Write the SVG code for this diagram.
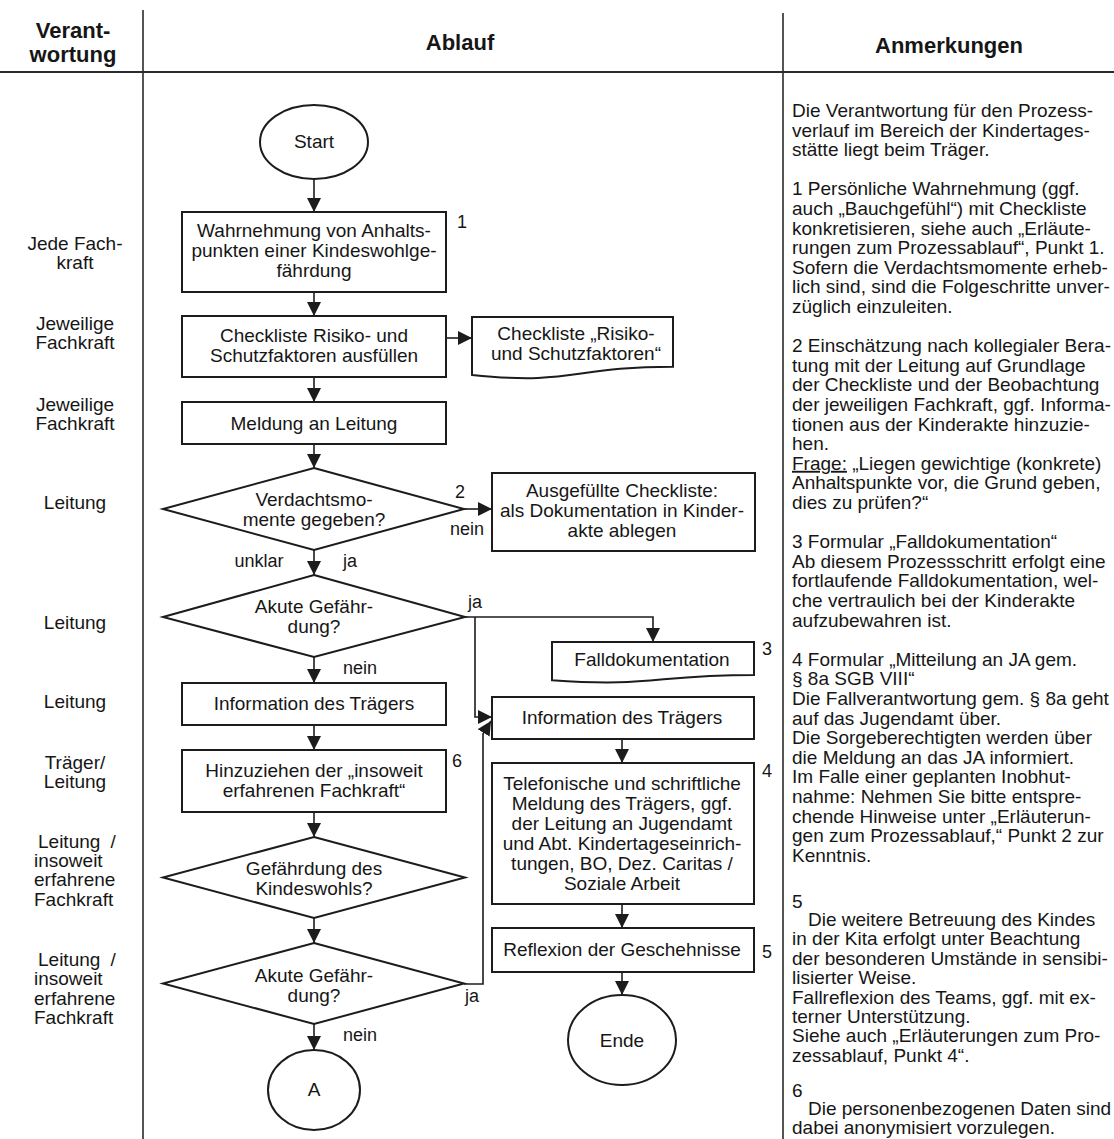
<svg xmlns="http://www.w3.org/2000/svg" width="1114" height="1139" viewBox="0 0 1114 1139">
  <style>
    .t { font-family: "Liberation Sans", Arial, sans-serif; font-size: 19px; fill: #161616; }
    .c { text-anchor: middle; }
    .h { font-weight: bold; font-size: 22px; }
    .lbl { font-size: 18px; }
    .shape { fill: #ffffff; stroke: #1c1c1c; stroke-width: 2; }
    .con { fill: none; stroke: #1c1c1c; stroke-width: 1.6; marker-end: url(#ah); }
    .rule { stroke: #2a2a2a; stroke-width: 1.6; fill: none; }
    .u { text-decoration: underline; }
  </style>
  <defs>
    <marker id="ah" markerUnits="userSpaceOnUse" markerWidth="14" markerHeight="14" viewBox="0 0 13 13" refX="13" refY="6.5" orient="auto">
      <path d="M0,0 L13,6.5 L0,13 Z" fill="#1c1c1c"/>
    </marker>
  </defs>

  <rect width="1114" height="1139" fill="#ffffff"/>

  <!-- table grid -->
  <g id="grid">
    <line class="rule" x1="143" y1="10" x2="143" y2="1139"/>
    <line class="rule" x1="783" y1="13" x2="783" y2="1139"/>
    <line class="rule" x1="0" y1="72" x2="1114" y2="72" style="stroke-width:2.2"/>
  </g>

  <!-- column headings -->
  <g id="headings">
    <text class="t h c" x="73" y="38">Verant-</text>
    <text class="t h c" x="73" y="62">wortung</text>
    <text class="t h c" x="460" y="50">Ablauf</text>
    <text class="t h c" x="949" y="53">Anmerkungen</text>
  </g>

  <!-- responsibility column -->
  <g id="responsibility">
    <text class="t c" x="75" y="250">Jede Fach-</text>
    <text class="t c" x="75" y="269">kraft</text>
    <text class="t c" x="75" y="330">Jeweilige</text>
    <text class="t c" x="75" y="349">Fachkraft</text>
    <text class="t c" x="75" y="411">Jeweilige</text>
    <text class="t c" x="75" y="430">Fachkraft</text>
    <text class="t c" x="75" y="509">Leitung</text>
    <text class="t c" x="75" y="629">Leitung</text>
    <text class="t c" x="75" y="708">Leitung</text>
    <text class="t c" x="75" y="769">Träger/</text>
    <text class="t c" x="75" y="788">Leitung</text>
    <text class="t" x="38" y="848" style="word-spacing:5px">Leitung /</text>
    <text class="t" x="34" y="867">insoweit</text>
    <text class="t" x="34" y="886">erfahrene</text>
    <text class="t" x="34" y="906">Fachkraft</text>
    <text class="t" x="38" y="966" style="word-spacing:5px">Leitung /</text>
    <text class="t" x="34" y="985">insoweit</text>
    <text class="t" x="34" y="1005">erfahrene</text>
    <text class="t" x="34" y="1024">Fachkraft</text>
  </g>

  <!-- connectors -->
  <g id="connectors">
    <path class="con" d="M314,179 V212"/>
    <path class="con" d="M314,292 V316"/>
    <path class="con" d="M446,338 H472"/>
    <path class="con" d="M314,377 V402"/>
    <path class="con" d="M314,444 V468"/>
    <path class="con" d="M464,509 H492"/>
    <path class="con" d="M314,550 V575"/>
    <path class="con" d="M465,617 H653 V642"/>
    <path class="con" d="M475,617 V717 H492"/>
    <path class="con" d="M314,657 V683"/>
    <path class="con" d="M314,725 V750"/>
    <path class="con" d="M314,812 V837"/>
    <path class="con" d="M314,918 V943"/>
    <path class="con" d="M314,1024 V1050"/>
    <path class="con" d="M464,984 H483 V734 L491,721"/>
    <path class="con" d="M622,739 V763"/>
    <path class="con" d="M622,904 V928"/>
    <path class="con" d="M622,972 V995"/>
    <!-- branch labels -->
    <text class="t lbl" x="455" y="498">2</text>
    <text class="t lbl c" x="467" y="535">nein</text>
    <text class="t lbl c" x="259" y="567">unklar</text>
    <text class="t lbl" x="343" y="567">ja</text>
    <text class="t lbl" x="468" y="608">ja</text>
    <text class="t lbl" x="343" y="674">nein</text>
    <text class="t lbl" x="465" y="1002">ja</text>
    <text class="t lbl" x="343" y="1041">nein</text>
  </g>

  <!-- main sequence -->
  <g id="start">
    <ellipse class="shape" cx="314" cy="142" rx="54" ry="37"/>
    <text class="t c" x="314" y="148">Start</text>
  </g>

  <g id="wahrnehmung">
    <rect class="shape" x="182" y="212" width="264" height="80"/>
    <text class="t c" x="314" y="237">Wahrnehmung von Anhalts-</text>
    <text class="t c" x="314" y="257">punkten einer Kindeswohlge-</text>
    <text class="t c" x="314" y="277">fährdung</text>
    <text class="t lbl" x="457" y="228">1</text>
  </g>

  <g id="checkliste">
    <rect class="shape" x="182" y="316" width="264" height="61"/>
    <text class="t c" x="314" y="342">Checkliste Risiko- und</text>
    <text class="t c" x="314" y="362">Schutzfaktoren ausfüllen</text>
  </g>

  <g id="checkliste-dok">
    <path class="shape" d="M472,317 H673 V366.7 C572.5,366.7 572.5,385.6 472,374.9 Z"/>
    <text class="t c" x="576" y="340">Checkliste „Risiko-</text>
    <text class="t c" x="576" y="360">und Schutzfaktoren“</text>
  </g>

  <g id="meldung">
    <rect class="shape" x="182" y="402" width="264" height="42"/>
    <text class="t c" x="314" y="430">Meldung an Leitung</text>
  </g>

  <g id="verdacht">
    <path class="shape" d="M314,468 L464,509 L314,550 L163,509 Z"/>
    <text class="t c" x="314" y="506">Verdachtsmo-</text>
    <text class="t c" x="314" y="526">mente gegeben?</text>
  </g>

  <g id="ablage">
    <rect class="shape" x="492" y="473" width="263" height="78"/>
    <text class="t c" x="622" y="497">Ausgefüllte Checkliste:</text>
    <text class="t c" x="622" y="517">als Dokumentation in Kinder-</text>
    <text class="t c" x="622" y="537">akte ablegen</text>
  </g>

  <g id="akut-1">
    <path class="shape" d="M314,575 L465,617 L314,657 L163,617 Z"/>
    <text class="t c" x="314" y="613">Akute Gefähr-</text>
    <text class="t c" x="314" y="633">dung?</text>
  </g>

  <g id="falldokumentation">
    <path class="shape" d="M552,642 H754 V675 C653,675 653,687.4 552,680.3 Z"/>
    <text class="t c" x="652" y="666">Falldokumentation</text>
    <text class="t lbl" x="762" y="655">3</text>
  </g>

  <g id="info-traeger-1">
    <rect class="shape" x="182" y="683" width="264" height="42"/>
    <text class="t c" x="314" y="710">Information des Trägers</text>
  </g>

  <g id="info-traeger-2">
    <rect class="shape" x="492" y="697" width="262" height="42"/>
    <text class="t c" x="622" y="724">Information des Trägers</text>
  </g>

  <g id="fachkraft">
    <rect class="shape" x="182" y="750" width="264" height="62"/>
    <text class="t c" x="314" y="777">Hinzuziehen der „insoweit</text>
    <text class="t c" x="314" y="797">erfahrenen Fachkraft“</text>
    <text class="t lbl" x="452" y="767">6</text>
  </g>

  <g id="meldung-ja">
    <rect class="shape" x="492" y="763" width="262" height="141"/>
    <text class="t c" x="622" y="790">Telefonische und schriftliche</text>
    <text class="t c" x="622" y="810">Meldung des Trägers, ggf.</text>
    <text class="t c" x="622" y="830">der Leitung an Jugendamt</text>
    <text class="t c" x="622" y="850">und Abt. Kindertageseinrich-</text>
    <text class="t c" x="622" y="870">tungen, BO, Dez. Caritas /</text>
    <text class="t c" x="622" y="890">Soziale Arbeit</text>
    <text class="t lbl" x="762" y="777">4</text>
  </g>

  <g id="kindeswohl">
    <path class="shape" d="M314,837 L465,877.5 L314,918 L163,877.5 Z"/>
    <text class="t c" x="314" y="875">Gefährdung des</text>
    <text class="t c" x="314" y="895">Kindeswohls?</text>
  </g>

  <g id="reflexion">
    <rect class="shape" x="492" y="928" width="262" height="44"/>
    <text class="t c" x="622" y="956">Reflexion der Geschehnisse</text>
    <text class="t lbl" x="762" y="958">5</text>
  </g>

  <g id="akut-2">
    <path class="shape" d="M314,943 L464,983.5 L314,1024 L163,983.5 Z"/>
    <text class="t c" x="314" y="982">Akute Gefähr-</text>
    <text class="t c" x="314" y="1002">dung?</text>
  </g>

  <g id="ende">
    <ellipse class="shape" cx="622" cy="1040" rx="54" ry="45"/>
    <text class="t c" x="622" y="1047">Ende</text>
  </g>

  <g id="connector-a">
    <ellipse class="shape" cx="314" cy="1090" rx="46" ry="40"/>
    <text class="t c" x="314" y="1096">A</text>
  </g>

  <!-- remarks column -->
  <g id="remarks">
    <text class="t">
      <tspan x="792" y="117">Die Verantwortung für den Prozess-</tspan>
      <tspan x="792" y="136.6">verlauf im Bereich der Kindertages-</tspan>
      <tspan x="792" y="156.2">stätte liegt beim Träger.</tspan>
      <tspan x="792" y="195.4">1 Persönliche Wahrnehmung (ggf.</tspan>
      <tspan x="792" y="215">auch „Bauchgefühl“) mit Checkliste</tspan>
      <tspan x="792" y="234.6">konkretisieren, siehe auch „Erläute-</tspan>
      <tspan x="792" y="254.2">rungen zum Prozessablauf“, Punkt 1.</tspan>
      <tspan x="792" y="273.8">Sofern die Verdachtsmomente erheb-</tspan>
      <tspan x="792" y="293.4">lich sind, sind die Folgeschritte unver-</tspan>
      <tspan x="792" y="313">züglich einzuleiten.</tspan>
      <tspan x="792" y="352.2">2 Einschätzung nach kollegialer Bera-</tspan>
      <tspan x="792" y="371.8">tung mit der Leitung auf Grundlage</tspan>
      <tspan x="792" y="391.4">der Checkliste und der Beobachtung</tspan>
      <tspan x="792" y="411">der jeweiligen Fachkraft, ggf. Informa-</tspan>
      <tspan x="792" y="430.6">tionen aus der Kinderakte hinzuzie-</tspan>
      <tspan x="792" y="450.2">hen.</tspan>
      <tspan x="792" y="469.8" class="u">Frage:</tspan><tspan> „Liegen gewichtige (konkrete)</tspan>
      <tspan x="792" y="489.4">Anhaltspunkte vor, die Grund geben,</tspan>
      <tspan x="792" y="509">dies zu prüfen?“</tspan>
      <tspan x="792" y="548.2">3 Formular „Falldokumentation“</tspan>
      <tspan x="792" y="567.8">Ab diesem Prozessschritt erfolgt eine</tspan>
      <tspan x="792" y="587.4">fortlaufende Falldokumentation, wel-</tspan>
      <tspan x="792" y="607">che vertraulich bei der Kinderakte</tspan>
      <tspan x="792" y="626.6">aufzubewahren ist.</tspan>
      <tspan x="792" y="665.8">4 Formular „Mitteilung an JA gem.</tspan>
      <tspan x="792" y="685.4">§ 8a SGB VIII“</tspan>
      <tspan x="792" y="705">Die Fallverantwortung gem. § 8a geht</tspan>
      <tspan x="792" y="724.6">auf das Jugendamt über.</tspan>
      <tspan x="792" y="744.2">Die Sorgeberechtigten werden über</tspan>
      <tspan x="792" y="763.8">die Meldung an das JA informiert.</tspan>
      <tspan x="792" y="783.4">Im Falle einer geplanten Inobhut-</tspan>
      <tspan x="792" y="803">nahme: Nehmen Sie bitte entspre-</tspan>
      <tspan x="792" y="822.6">chende Hinweise unter „Erläuterun-</tspan>
      <tspan x="792" y="842.2">gen zum Prozessablauf,“ Punkt 2 zur</tspan>
      <tspan x="792" y="861.8">Kenntnis.</tspan>
    </text>
    <text class="t" x="792" y="908">5</text>
    <text class="t">
      <tspan x="808" y="926">Die weitere Betreuung des Kindes</tspan>
      <tspan x="792" y="945.4">in der Kita erfolgt unter Beachtung</tspan>
      <tspan x="792" y="964.8">der besonderen Umstände in sensibi-</tspan>
      <tspan x="792" y="984.2">lisierter Weise.</tspan>
      <tspan x="792" y="1003.6">Fallreflexion des Teams, ggf. mit ex-</tspan>
      <tspan x="792" y="1023">terner Unterstützung.</tspan>
      <tspan x="792" y="1042.4">Siehe auch „Erläuterungen zum Pro-</tspan>
      <tspan x="792" y="1061.8">zessablauf, Punkt 4“.</tspan>
    </text>
    <text class="t" x="792" y="1097">6</text>
    <text class="t">
      <tspan x="808" y="1115">Die personenbezogenen Daten sind</tspan>
      <tspan x="792" y="1134">dabei anonymisiert vorzulegen.</tspan>
    </text>
  </g>
</svg>
